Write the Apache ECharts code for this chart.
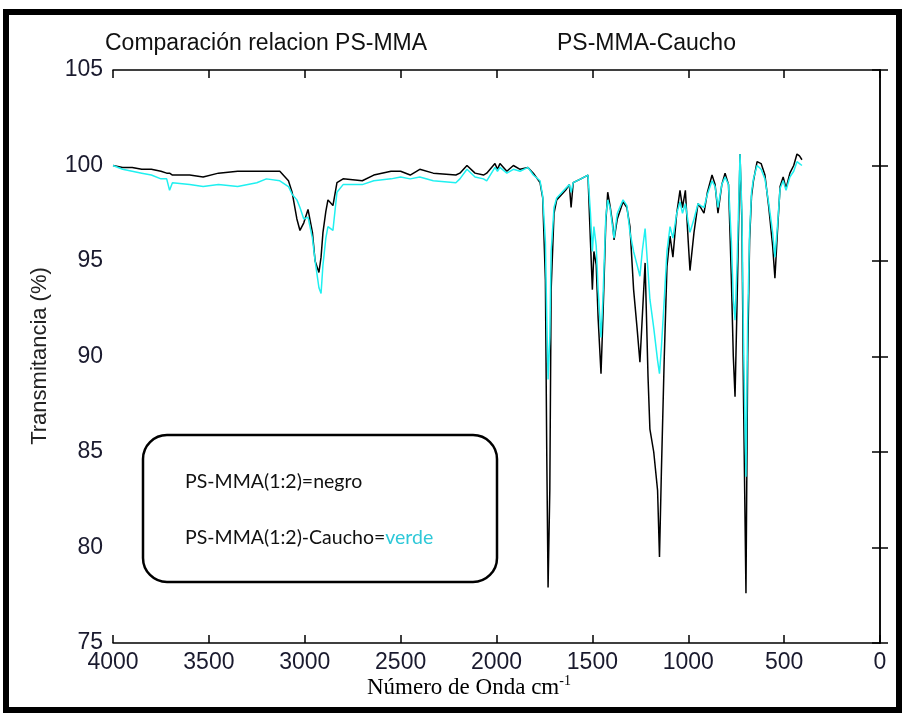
<!DOCTYPE html>
<html>
<head>
<meta charset="utf-8">
<script src="https://cdn.jsdelivr.net/npm/echarts@6/dist/echarts.min.js"></script>
<style>
  html, body { margin: 0; padding: 0; background: #fff; }
  #chart { width: 905px; height: 717px; }
</style>
</head>
<body>
<div id="chart"></div>
<script>
// numero de onda (cm-1)
const waveNumbers = [
  4000, 3950, 3900, 3850, 3800, 3750, 3720, 3705, 3690, 3600, 3530, 3450, 3350, 3250, 3200, 3130,
  3085, 3066, 3041, 3025, 3005, 2983, 2960, 2946, 2926, 2915, 2905, 2890, 2879, 2853, 2832, 2800,
  2700, 2640, 2550, 2500, 2450, 2400, 2330, 2212, 2191, 2154, 2112, 2068, 2051, 2008, 1995, 1982,
  1946, 1912, 1877, 1836, 1808, 1773, 1759, 1745, 1738, 1731, 1722, 1715, 1700, 1686, 1640, 1620,
  1611, 1600, 1560, 1523, 1510, 1500, 1492, 1480, 1470, 1455, 1445, 1430, 1420, 1408, 1395, 1387,
  1370, 1340, 1320, 1304, 1285, 1267, 1252, 1240, 1225, 1210, 1200, 1180, 1160, 1150, 1140, 1125,
  1111, 1095, 1080, 1060, 1043, 1030, 1015, 1000, 991, 970, 949, 935, 918, 900, 876, 860,
  845, 825, 808, 790, 775, 765, 756, 745, 730, 720, 712, 699, 690, 680, 670, 660,
  641, 620, 600, 580, 560, 548, 535, 521, 505, 490, 470, 450, 433, 420, 407
];
// PS-MMA(1:2) = negro
const negro = [
  100.0, 99.9, 99.9, 99.8, 99.8, 99.7, 99.6, 99.6, 99.5, 99.5, 99.4, 99.6, 99.7, 99.7, 99.7, 99.7,
  99.2, 98.6, 97.2, 96.6, 97.0, 97.7, 96.5, 95.0, 94.4, 95.2, 96.5, 97.6, 98.2, 97.9, 99.1, 99.3,
  99.2, 99.5, 99.7, 99.7, 99.5, 99.8, 99.6, 99.5, 99.6, 100.0, 99.6, 99.5, 99.6, 100.1, 99.8, 100.1,
  99.7, 100.0, 99.8, 99.9, 99.6, 99.1, 98.3, 94.0, 85.0, 77.9, 83.0, 93.5, 97.5, 98.2, 98.7, 99.0,
  97.8, 99.1, 99.3, 99.5, 96.0, 93.5, 95.5, 94.8, 92.0, 89.1, 92.0, 97.0, 98.6, 97.9, 97.0, 96.1,
  97.2, 98.1, 97.8, 96.8, 93.5, 91.5, 89.7, 92.0, 94.9, 89.0, 86.2, 85.0, 83.0, 79.5, 84.0, 90.0,
  94.7, 96.3, 95.2, 97.5, 98.7, 97.8, 98.7, 96.0, 94.5, 96.5, 98.0, 97.8, 97.5, 98.6, 99.5, 99.0,
  97.5, 99.0, 99.6, 99.0, 94.0, 90.0, 87.9, 93.0, 100.6, 97.0, 88.0, 77.6, 90.0, 96.1, 98.4, 99.2,
  100.2, 100.1, 99.5, 97.8, 95.8, 94.1, 96.5, 98.9, 99.4, 98.8, 99.6, 100.0, 100.6, 100.5, 100.3
];
// PS-MMA(1:2)-Caucho = verde
const verde = [
  100.0, 99.8, 99.7, 99.6, 99.5, 99.3, 99.3, 98.7, 99.1, 99.0, 98.9, 99.0, 98.9, 99.1, 99.3, 99.2,
  98.9, 98.5, 98.2, 97.8, 97.2, 97.3, 96.2, 95.0, 93.6, 93.3, 94.8, 96.2, 96.8, 96.6, 98.6, 99.0,
  99.0, 99.2, 99.3, 99.4, 99.3, 99.4, 99.2, 99.1, 99.3, 99.8, 99.4, 99.3, 99.2, 99.9, 99.7, 99.9,
  99.6, 99.8, 99.7, 99.9, 99.5, 99.2, 98.4, 96.0, 92.0, 88.8, 91.0, 95.5, 97.8, 98.3, 98.8, 99.0,
  98.6, 99.1, 99.3, 99.5, 97.5, 95.5, 96.8, 95.8, 93.5, 91.0, 93.0, 97.3, 98.2, 97.8, 96.8, 96.2,
  97.5, 98.2, 97.9, 96.5, 95.5, 94.8, 94.2, 95.5, 96.7, 94.5, 93.0, 91.5, 89.8, 89.1, 90.5, 93.0,
  95.5, 96.8, 96.2, 97.5, 98.1, 97.5, 98.0, 97.0, 96.5, 97.2, 98.0, 97.9, 97.8, 98.5, 99.2, 98.9,
  97.8, 99.0, 99.4, 99.0, 96.0, 93.0, 91.9, 95.0, 100.6, 97.5, 91.0, 83.7, 92.0, 96.5, 98.6, 99.3,
  100.0, 99.8, 99.3, 98.0, 96.5, 95.2, 96.8, 98.8, 99.2, 98.7, 99.4, 99.7, 100.2, 100.1, 100.0
];
const xTicks = { min: 0, max: 4000, interval: 500 };
const yTicks = { min: 75, max: 105, interval: 5 };

const chart = echarts.init(document.getElementById('chart'));
const sans = 'Liberation Sans';
const axisLine = { show: true, lineStyle: { color: '#000', width: 1.5 } };
const axisTick = { show: true, inside: true, length: 8, lineStyle: { color: '#000', width: 1.5 } };

const xAxisBase = {
  type: 'value',
  inverse: true,
  min: xTicks.min,
  max: xTicks.max,
  interval: xTicks.interval,
  axisLine,
  axisTick,
  splitLine: { show: false }
};
const yAxisBase = {
  type: 'value',
  min: yTicks.min,
  max: yTicks.max,
  interval: yTicks.interval,
  axisLine,
  axisTick,
  splitLine: { show: false }
};

chart.setOption({
  backgroundColor: '#fff',
  animation: false,
  grid: { left: 113, right: 25, top: 70, bottom: 74 },
  xAxis: [
    {
      ...xAxisBase,
      position: 'bottom',
      axisLabel: {
        fontFamily: sans, fontSize: 23, color: '#1a1a2e', margin: 8,
        formatter: v => String(v)
      }
    },
    { ...xAxisBase, position: 'top', axisLabel: { show: false } }
  ],
  yAxis: [
    {
      ...yAxisBase,
      position: 'left',
      axisLabel: {
        fontFamily: sans, fontSize: 23, color: '#1a1a2e', margin: 10,
        formatter: v => String(v)
      }
    },
    { ...yAxisBase, position: 'right', axisLabel: { show: false } }
  ],
  series: [
    {
      name: 'PS-MMA(1:2)',
      type: 'line',
      showSymbol: false,
      data: waveNumbers.map((w, i) => [w, negro[i]]),
      lineStyle: { color: '#000', width: 1.5 }
    },
    {
      name: 'PS-MMA(1:2)-Caucho',
      type: 'line',
      showSymbol: false,
      data: waveNumbers.map((w, i) => [w, verde[i]]),
      lineStyle: { color: '#1ff0f0', width: 1.5 }
    }
  ],
  graphic: [
    // marco exterior
    {
      type: 'rect',
      shape: { x: 6, y: 12, width: 893, height: 698 },
      style: { fill: 'none', stroke: '#000', lineWidth: 6 }
    },
    {
      type: 'text', left: 105, top: 32,
      style: { text: 'Comparación relacion PS-MMA', fontFamily: sans, fontSize: 23, fill: '#111' }
    },
    {
      type: 'text', left: 557, top: 32,
      style: { text: 'PS-MMA-Caucho', fontFamily: sans, fontSize: 23, fill: '#111' }
    },
    {
      type: 'text', x: 40, y: 356, rotation: Math.PI / 2,
      style: {
        text: 'Transmitancia (%)', fontFamily: sans, fontSize: 22, fill: '#222',
        align: 'center', verticalAlign: 'middle'
      }
    },
    {
      type: 'text', left: 367, top: 674,
      style: {
        text: '{a|Número de Onda cm}{s|-1}',
        rich: {
          a: { fontFamily: 'Liberation Serif', fontSize: 23, fill: '#000', lineHeight: 28 },
          s: { fontFamily: 'Liberation Serif', fontSize: 14, fill: '#000', verticalAlign: 'top', lineHeight: 28, padding: [0, 0, 12, 0] }
        }
      }
    },
    // recuadro de leyenda
    {
      type: 'rect',
      shape: { x: 143, y: 435, width: 354, height: 147, r: 24 },
      style: { fill: '#fff', stroke: '#000', lineWidth: 2.5 }
    },
    {
      type: 'text', left: 185, top: 472,
      style: { text: 'PS-MMA(1:2)=negro', fontFamily: 'Lato', fontSize: 19.5, fill: '#111' }
    },
    {
      type: 'text', left: 185, top: 528,
      style: {
        text: '{b|PS-MMA(1:2)-Caucho=}{c|verde}',
        rich: {
          b: { fontFamily: 'Lato', fontSize: 19.5, fill: '#111' },
          c: { fontFamily: 'Lato', fontSize: 19.5, fill: '#2ec8d8' }
        }
      }
    }
  ]
});
</script>
</body>
</html>
